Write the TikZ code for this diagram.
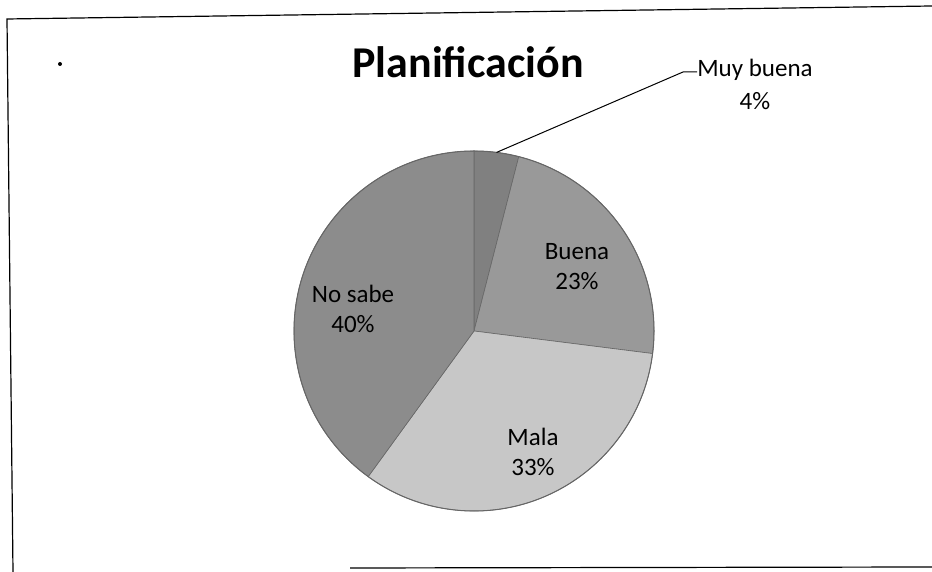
\documentclass[tikz,border=0pt]{standalone}
\usepackage{fontspec}
\setmainfont{Carlito}
\usetikzlibrary{positioning}
\definecolor{nosabe}{gray}{0.55}
\definecolor{muybuena}{gray}{0.50}
\definecolor{buena}{gray}{0.60}
\definecolor{mala}{gray}{0.78}
\definecolor{edge}{gray}{0.40}

\begin{document}
\begin{tikzpicture}[x=1pt,y=1pt,
        lbl/.style={align=center,inner sep=0pt,font=\fontsize{25}{30}\selectfont},
        slice/.style={draw=edge,line width=0.6pt}]
        \useasboundingbox (0,0) rectangle (932,572);
        % frame of the scanned chart
        \draw[line width=1.2pt] (932,566) -- (7,553) -- (13,0);
        \draw[line width=1.2pt] (350,4) -- (932,5);
        \fill (60,508) circle (2);
        \node[font=\bfseries\fontsize{44}{50}\selectfont] (title) at (468,510) {Planificación};
        % pie
        \coordinate (c) at (474,241);
        \filldraw[slice,fill=muybuena] (c) -- +(90:180) arc[start angle=90,end angle=75.6,radius=180] -- cycle;
        \filldraw[slice,fill=buena] (c) -- +(75.6:180) arc[start angle=75.6,end angle=-7.2,radius=180] -- cycle;
        \filldraw[slice,fill=mala] (c) -- +(-7.2:180) arc[start angle=-7.2,end angle=-126,radius=180] -- cycle;
        \filldraw[slice,fill=nosabe] (c) -- +(-126:180) arc[start angle=-126,end angle=-270,radius=180] -- cycle;
        \draw[edge,line width=1pt] (c) circle (180);
        % labels
        \node[lbl] (lns) at (353,263) {No sabe\\40\%};
        \node[lbl] (lbu) at (577,305) {Buena\\23\%};
        \node[lbl] (lma) at (533,120) {Mala\\33\%};
        \node[lbl,font=\fontsize{25}{33}\selectfont] (lmb) at (755,488) {Muy buena\\4\%};
        \coordinate (mb) at ([shift={(82.8:180)}]c);
        \coordinate (knee) at (683,500);
        \draw[line width=1pt] (mb) -- (knee) -- (lmb.west |- knee);
\end{tikzpicture}
\end{document}
